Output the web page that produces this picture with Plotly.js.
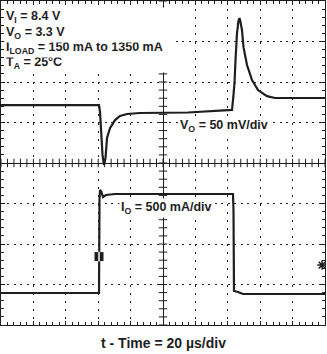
<!DOCTYPE html>
<html>
<head>
<meta charset="utf-8">
<script src="https://cdn.plot.ly/plotly-3.0.1.min.js"></script>
<style>html,body{margin:0;padding:0;background:#fff;}#chart{width:327px;height:354px;}</style>
</head>
<body>
<div id="chart"></div>
<script>
// Time axis in divisions from screen centre (20 µs/div), vertical in divisions from centre
const voTime = [-5, -1.975, -1.944, -1.914, -1.867, -1.821, -1.775, -1.728, -1.636, -1.481, -1.327, -1.111, -0.71, 0.772, 1.451, 2.13, 2.176, 2.207, 2.238, 2.284, 2.33, 2.361, 2.392, 2.438, 2.485, 2.593, 2.747, 2.932, 3.21, 3.457, 5];
const voLevel = [1.43, 1.43, 1.26, 0.69, 0.20, -0.05, 0.12, 0.62, 0.86, 1.06, 1.16, 1.21, 1.235, 1.247, 1.272, 1.31, 1.68, 1.975, 2.54, 3.21, 3.51, 3.58, 3.48, 3.28, 2.86, 2.42, 2.05, 1.80, 1.65, 1.605, 1.605];

const ioTime = [-5, -1.975, -1.96, -1.944, -1.90, -1.852, -1.759, -1.481, 2.16, 2.176, 2.191, 2.315, 2.469, 5];
const ioLevel = [-3.21, -3.21, -0.914, -0.667, -0.716, -0.84, -0.79, -0.765, -0.765, -1.16, -3.16, -3.185, -3.235, -3.235];

// channel / trigger markers
const chMarkerX = [-1.975];
const chMarkerY = [-2.31];
const trigMarkerX = [4.91];
const trigMarkerY = [-2.52];

const infoLines = ["V<sub>I</sub> = 8.4 V", "V<sub>O</sub> = 3.3 V", "I<sub>LOAD</sub> = 150 mA to 1350 mA", "T<sub>A</sub> = 25°C"];
const voLabel = "V<sub>O</sub> = 50 mV/div";
const ioLabel = "I<sub>O</sub> = 500 mA/div";
const xTitle = "t - Time = 20 µs/div";

const ink = '#1e1e1e';
const fontFam = 'Liberation Sans, Arial, sans-serif';

// minor tick positions along the centre graticule lines
const hTicks = [], vTicks = [];
for (let i = -25; i <= 25; i++) hTicks.push(i / 5);
for (let i = -20; i <= 20; i++) vTicks.push(i / 5);

const traces = [
  {x: hTicks, y: hTicks.map(() => 0), mode: 'markers', hoverinfo: 'skip',
   marker: {symbol: 'line-ns', size: 6, color: ink, line: {width: 1, color: ink}}},
  {x: vTicks.map(() => 0), y: vTicks, mode: 'markers', hoverinfo: 'skip',
   marker: {symbol: 'line-ew', size: 6, color: ink, line: {width: 1, color: ink}}},
  {x: voTime, y: voLevel, mode: 'lines', line: {color: ink, width: 2.2}},
  {x: ioTime, y: ioLevel, mode: 'lines', line: {color: ink, width: 2.2}},
  {x: chMarkerX, y: chMarkerY, mode: 'markers',
   marker: {symbol: 'square', size: 9, color: ink, line: {width: 0}}},
  {x: chMarkerX, y: chMarkerY, mode: 'markers',
   marker: {symbol: 'line-ns', size: 7, color: '#fff', line: {width: 1.5, color: '#fff'}}},
  {x: trigMarkerX, y: trigMarkerY, mode: 'markers',
   marker: {symbol: 'asterisk-open', size: 8, color: ink, line: {width: 1.5, color: ink}}}
];

function axis(dash) {
  return {
    dtick: 1, tick0: 0, showgrid: true, gridcolor: '#222', gridwidth: 1, griddash: dash,
    zeroline: true, zerolinecolor: ink, zerolinewidth: 1,
    showline: true, mirror: 'allticks', linecolor: ink, linewidth: 1,
    ticks: 'inside', ticklen: 4, tickcolor: ink, tickwidth: 1, showticklabels: false,
    minor: {dtick: 0.2, ticks: 'inside', ticklen: 3, tickcolor: ink, tickwidth: 1, showgrid: false},
    fixedrange: true
  };
}

const xa = axis('2px,6.1px');
xa.range = [-5, 5];
const ya = axis('2px,4.48px');
ya.range = [-4, 4];

const infoY = [0.9506, 0.9012, 0.8534, 0.8071];
const annotations = [];
// bottom line first so each upper line's subscript stays on top
for (let i = infoLines.length - 1; i >= 0; i--) {
  annotations.push({
    text: infoLines[i], xref: 'paper', yref: 'paper', x: 0.01, y: infoY[i],
    xanchor: 'left', yanchor: 'middle', align: 'left', width: 168,
    showarrow: false, bgcolor: '#fff', borderpad: 1,
    font: {family: fontFam, size: 12.5, color: ink, weight: 'bold'}
  });
}
annotations.push({
  text: voLabel, xref: 'paper', yref: 'paper', x: 0.546, y: 0.614,
  xanchor: 'left', yanchor: 'middle', showarrow: false, bgcolor: '#fff', borderpad: 1,
  font: {family: fontFam, size: 12.5, color: ink, weight: 'bold'}
});
annotations.push({
  text: ioLabel, xref: 'paper', yref: 'paper', x: 0.364, y: 0.3596,
  xanchor: 'left', yanchor: 'middle', showarrow: false, bgcolor: '#fff', borderpad: 1,
  font: {family: fontFam, size: 12.5, color: ink, weight: 'bold'}
});
annotations.push({
  text: xTitle, xref: 'paper', yref: 'paper', x: 0.503, y: -0.0556,
  xanchor: 'center', yanchor: 'middle', showarrow: false,
  font: {family: fontFam, size: 14, color: ink, weight: 'bold'}
});

const layout = {
  width: 327, height: 354,
  margin: {l: 1, r: 2, t: 1, b: 29, pad: 0},
  paper_bgcolor: '#fff', plot_bgcolor: '#fff',
  showlegend: false,
  xaxis: xa, yaxis: ya,
  annotations: annotations
};

Plotly.newPlot('chart', traces, layout, {displayModeBar: false, staticPlot: true});
</script>
</body>
</html>
